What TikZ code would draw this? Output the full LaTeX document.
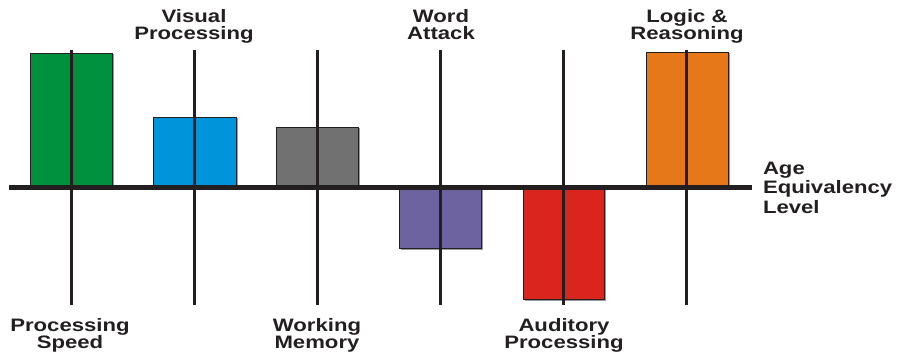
\documentclass[tikz,border=0pt]{standalone}
\usepackage{fontspec}
\setmainfont{Liberation Sans}
\usepackage{graphicx}
\definecolor{ink}{HTML}{231F20}
\definecolor{cgreen}{HTML}{00913F}
\definecolor{cblue}{HTML}{0095DA}
\definecolor{cgray}{HTML}{717171}
\definecolor{cpurple}{HTML}{6C63A0}
\definecolor{cred}{HTML}{DA251E}
\definecolor{corange}{HTML}{E7781A}
\definecolor{shade}{HTML}{9A9A9A}
\newcommand{\wtxt}[1]{\scalebox{1.23}[1]{#1}}
\tikzset{
  lbl/.style={inner sep=0pt, outer sep=0pt, text=ink, align=center,
    font=\bfseries\fontsize{18}{17.5}\selectfont},
  bar/.style={draw=ink, line width=0.8pt},
  barshadow/.style={fill=shade},
  axisline/.style={draw=ink, line width=5pt},
  tickline/.style={draw=ink, line width=3pt},
}
\begin{document}
\begin{tikzpicture}[x=1pt,y=-1pt]
\useasboundingbox (0,0) rectangle (899,358);
% shadows
\fill[barshadow] (31.5,54.5) rectangle (113.5,187);
\fill[barshadow] (154.5,118.5) rectangle (237.5,187);
\fill[barshadow] (277.5,128.5) rectangle (359.5,187);
\fill[barshadow] (400.5,188) rectangle (482.5,249.5);
\fill[barshadow] (524.5,188) rectangle (605.5,300.5);
\fill[barshadow] (647.5,53.5) rectangle (729.5,187);
% bars
\filldraw[bar, fill=cgreen] (30,53) rectangle (112,187);
\filldraw[bar, fill=cblue] (153,117) rectangle (236,187);
\filldraw[bar, fill=cgray] (276,127) rectangle (358,187);
\filldraw[bar, fill=cpurple] (399,188) rectangle (481,248);
\filldraw[bar, fill=cred] (523,188) rectangle (604,299);
\filldraw[bar, fill=corange] (646,52) rectangle (728,187);
% vertical lines
\coordinate (t1) at (71,50);  \coordinate (b1) at (71,305);
\coordinate (t2) at (194,50); \coordinate (b2) at (194,305);
\coordinate (t3) at (317,50); \coordinate (b3) at (317,305);
\coordinate (t4) at (440,50); \coordinate (b4) at (440,305);
\coordinate (t5) at (563,50); \coordinate (b5) at (563,305);
\coordinate (t6) at (686,50); \coordinate (b6) at (686,305);
\foreach \i in {1,...,6} \draw[tickline] (t\i) -- (b\i);
% axis
\coordinate (al) at (9,187.5);
\coordinate (ar) at (752,187.5);
\draw[axisline] (al) -- (ar);
% labels top
\node[lbl, anchor=north] (visual) at (194,9) {\wtxt{Visual}\\\wtxt{Processing}};
\node[lbl, anchor=north] (word) at (441,9) {\wtxt{Word}\\\wtxt{Attack}};
\node[lbl, anchor=north] (logic) at (687,9) {\wtxt{Logic \&}\\\wtxt{Reasoning}};
% labels bottom
\node[lbl, anchor=north] (speed) at (70,318) {\wtxt{Processing}\\\wtxt{Speed}};
\node[lbl, anchor=north] (memory) at (317,318) {\wtxt{Working}\\\wtxt{Memory}};
\node[lbl, anchor=north] (auditory) at (564,318) {\wtxt{Auditory}\\\wtxt{Processing}};
% axis label
\node[lbl, anchor=north west, align=left, font=\bfseries\fontsize{18}{19.5}\selectfont] (age) at (763,162) {\wtxt{Age}\\\wtxt{Equivalency}\\\wtxt{Level}};
\end{tikzpicture}
\end{document}
